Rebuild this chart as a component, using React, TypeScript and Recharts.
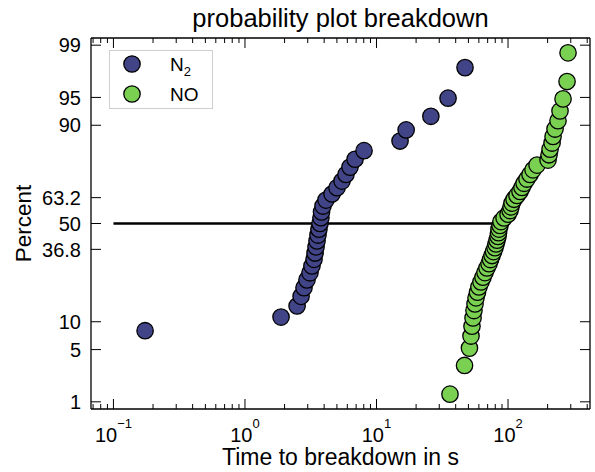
import React from "react";
import { ScatterChart, Scatter, XAxis, YAxis, ReferenceLine, Legend, Label } from "recharts";

// breakdown times in s
const n2Times = [0.174, 1.88, 2.49, 2.67, 2.81, 2.96, 3.12, 3.23, 3.35, 3.41, 3.47, 3.53, 3.59, 3.65, 3.72, 3.78, 3.82, 3.92, 4.13, 4.59, 5.01, 5.47, 5.86, 6.29, 6.87, 8.04, 15.1, 16.8, 25.9, 35.0, 47.1];
const n2Percent = [8.1, 11.1, 14.1, 17.1, 20.1, 23.1, 26.0, 29.0, 32.0, 35.0, 38.0, 41.0, 44.0, 47.0, 50.0, 53.0, 56.0, 59.0, 62.0, 65.0, 68.0, 71.0, 73.9, 76.9, 79.9, 82.9, 85.9, 88.9, 91.9, 94.9, 97.9];

const noTimes = [36.2, 46.7, 50.9, 52.3, 53.2, 54.2, 55.1, 56.1, 57.1, 58.6, 60.1, 62.3, 64.5, 66.8, 69.2, 71.7, 73.6, 75.6, 77.6, 79.6, 81.1, 82.5, 83.9, 84.7, 85.4, 86.9, 88.4, 93.3, 100.0, 103.6, 105.4, 107.3, 111.1, 117.0, 123.3, 127.7, 132.4, 139.4, 146.9, 154.9, 166.2, 201.5, 205.1, 208.7, 216.2, 220.0, 227.7, 239.9, 248.4, 262.0, 281.0, 285.9];
const noPercent = [1.3, 3.2, 5.2, 7.1, 9.0, 10.9, 12.8, 14.7, 16.6, 18.5, 20.4, 22.3, 24.2, 26.1, 28.1, 30.0, 31.9, 33.8, 35.7, 37.6, 39.5, 41.4, 43.3, 45.2, 47.1, 49.0, 51.0, 52.9, 54.8, 56.7, 58.6, 60.5, 62.4, 64.3, 66.2, 68.1, 70.0, 71.9, 73.9, 75.8, 77.7, 79.6, 81.5, 83.4, 85.3, 87.2, 89.1, 91.0, 92.9, 94.8, 96.8, 98.7];

const percentTicks = [1, 5, 10, 36.8, 50, 63.2, 90, 95, 99];
const percentLabels = ["1", "5", "10", "36.8", "50", "63.2", "90", "95", "99"];
const decadeTicks = [0.1, 1, 10, 100];
const decadeExponents = ["\u22121", "0", "1", "2"];
const minorFactors = [2, 3, 4, 5, 6, 7, 8, 9];

const seriesNames = ["N", "NO"];
const seriesSubs = ["2", ""];
const seriesColors = ["#414487", "#7AD151"];

const FONT = '"Liberation Sans", Arial, Helvetica, sans-serif';
const W = 595;
const H = 472;
const plotLeft = 91;
const plotTop = 38;
const plotRight = 590;
const plotBottom = 409;
const xDomain = [0.0675, 420];
const zLimit = 2.42;

// inverse normal cdf (Acklam)
function probit(p: number) {
    const a = [-39.69683028665376, 220.9460984245205, -275.9285104469687, 138.357751867269, -30.66479806614716, 2.506628277459239];
    const b = [-54.47609879822406, 161.5858368580409, -155.6989798598866, 66.80131188771972, -13.28068155288572];
    const c = [-0.007784894002430293, -0.3223964580411365, -2.400758277161838, -2.549732539343734, 4.374664141464968, 2.938163982698783];
    const d = [0.007784695709041462, 0.3224671290700398, 2.445134137142996, 3.754408661907416];
    const plow = 0.02425;
    if (p < plow) {
        const q = Math.sqrt(-2 * Math.log(p));
        return (((((c[0] * q + c[1]) * q + c[2]) * q + c[3]) * q + c[4]) * q + c[5]) / ((((d[0] * q + d[1]) * q + d[2]) * q + d[3]) * q + 1);
    }
    if (p > 1 - plow) {
        const q = Math.sqrt(-2 * Math.log(1 - p));
        return -(((((c[0] * q + c[1]) * q + c[2]) * q + c[3]) * q + c[4]) * q + c[5]) / ((((d[0] * q + d[1]) * q + d[2]) * q + d[3]) * q + 1);
    }
    const q = p - 0.5;
    const r = q * q;
    return (((((a[0] * r + a[1]) * r + a[2]) * r + a[3]) * r + a[4]) * r + a[5]) * q / (((((b[0] * r + b[1]) * r + b[2]) * r + b[3]) * r + b[4]) * r + 1);
}

const n2Data = n2Times.map((t, i) => ({ t, z: probit(n2Percent[i] / 100) }));
const noData = noTimes.map((t, i) => ({ t, z: probit(noPercent[i] / 100) }));
// keeps the mirror axes (top / right) bound to a series
const frameData = [{ t: xDomain[0], z: -zLimit }, { t: xDomain[1], z: zLimit }];

const yTicks = percentTicks.map((p) => probit(p / 100));
const xTicks: number[] = [];
[0.01, 0.1, 1, 10, 100].forEach((dec) => {
    xTicks.push(dec);
    minorFactors.forEach((f) => xTicks.push(dec * f));
});
const xTicksInRange = xTicks.filter((v) => v >= xDomain[0] && v <= xDomain[1]).sort((p, q) => p - q);

function majorIndex(v: number) {
    return decadeTicks.findIndex((d) => Math.abs(d - v) / d < 1e-6);
}

function BottomTick(props: any) {
    const { x, y, payload } = props;
    const idx = majorIndex(payload.value);
    return (
        <g>
            <line x1={x} y1={y} x2={x} y2={y - (idx >= 0 ? 10 : 5)} stroke="#000" strokeWidth={1} />
            {idx >= 0 && (
                <text x={x} y={y + 33} textAnchor="middle" fontSize={20} fontFamily={FONT} fill="#000">
                    10<tspan dy={-14} fontSize={13}>{decadeExponents[idx]}</tspan>
                </text>
            )}
        </g>
    );
}

function TopTick(props: any) {
    const { x, payload } = props;
    const idx = majorIndex(payload.value);
    return <line x1={x} y1={plotTop} x2={x} y2={plotTop + (idx >= 0 ? 10 : 5)} stroke="#000" strokeWidth={1} />;
}

function LeftTick(props: any) {
    const { x, y, index } = props;
    return (
        <g>
            <line x1={x} y1={y} x2={x + 10} y2={y} stroke="#000" strokeWidth={1} />
            <text x={x - 10} y={y} dy="0.36em" textAnchor="end" fontSize={20} fontFamily={FONT} fill="#000">
                {percentLabels[index]}
            </text>
        </g>
    );
}

function RightTick(props: any) {
    const { y } = props;
    return <line x1={plotRight} y1={y} x2={plotRight - 10} y2={y} stroke="#000" strokeWidth={1} />;
}

function Dot(color: string) {
    return (props: any) => (
        <circle cx={props.cx} cy={props.cy} r={8.2} fill={color} stroke="#000" strokeWidth={1.3} />
    );
}

function LegendBox() {
    return (
        <div style={{ width: 104, height: 59, border: "1px solid #cfcfcf", background: "#fff", boxSizing: "border-box" }}>
            <svg width={102} height={57} style={{ display: "block" }}>
                {seriesNames.map((name, i) => (
                    <g key={name}>
                        <circle cx={22} cy={13 + i * 30} r={8.2} fill={seriesColors[i]} stroke="#000" strokeWidth={1.3} />
                        <text x={60} y={20 + i * 30} fontSize={19} fontFamily={FONT} fill="#000">
                            {name}
                            {seriesSubs[i] && <tspan dy={5} fontSize={13}>{seriesSubs[i]}</tspan>}
                        </text>
                    </g>
                ))}
            </svg>
        </div>
    );
}

export default function App() {
    const midX = (plotLeft + plotRight) / 2;
    const midY = (plotTop + plotBottom) / 2;
    return (
        <div style={{ position: "absolute", left: 0, top: 0, width: W, height: H, background: "#fff" }}>
            <ScatterChart width={W} height={H} margin={{ top: plotTop - 1, right: W - plotRight - 1, bottom: 0, left: 0 }}>
                <XAxis
                    xAxisId={0}
                    dataKey="t"
                    type="number"
                    scale="log"
                    domain={xDomain}
                    allowDataOverflow
                    ticks={xTicksInRange}
                    interval={0}
                    height={H - plotBottom}
                    tickSize={0}
                    tickMargin={0}
                    tickLine={false}
                    axisLine={{ stroke: "#000", strokeWidth: 1.3 }}
                    tick={<BottomTick />}
                >
                    <Label
                        content={() => (
                            <text x={midX} y={465} textAnchor="middle" fontSize={23} fontFamily={FONT} fill="#000">
                                Time to breakdown in s
                            </text>
                        )}
                    />
                </XAxis>
                <XAxis
                    xAxisId="top"
                    orientation="top"
                    dataKey="t"
                    type="number"
                    scale="log"
                    domain={xDomain}
                    allowDataOverflow
                    ticks={xTicksInRange}
                    interval={0}
                    height={1}
                    tickSize={0}
                    tickMargin={0}
                    tickLine={false}
                    axisLine={{ stroke: "#000", strokeWidth: 1.3 }}
                    tick={<TopTick />}
                >
                    <Label
                        content={() => (
                            <text x={midX} y={27} textAnchor="middle" fontSize={25.5} fontFamily={FONT} fill="#000">
                                probability plot breakdown
                            </text>
                        )}
                    />
                </XAxis>
                <YAxis
                    yAxisId={0}
                    dataKey="z"
                    type="number"
                    domain={[-zLimit, zLimit]}
                    allowDataOverflow
                    ticks={yTicks}
                    interval={0}
                    width={plotLeft}
                    tickSize={0}
                    tickMargin={0}
                    tickLine={false}
                    axisLine={{ stroke: "#000", strokeWidth: 1.3 }}
                    tick={<LeftTick />}
                >
                    <Label
                        content={() => (
                            <text
                                x={31}
                                y={midY}
                                transform={`rotate(-90, 31, ${midY})`}
                                textAnchor="middle"
                                fontSize={22.5}
                                fontFamily={FONT}
                                fill="#000"
                            >
                                Percent
                            </text>
                        )}
                    />
                </YAxis>
                <YAxis
                    yAxisId="right"
                    orientation="right"
                    dataKey="z"
                    type="number"
                    domain={[-zLimit, zLimit]}
                    allowDataOverflow
                    ticks={yTicks}
                    interval={0}
                    width={1}
                    tickSize={0}
                    tickMargin={0}
                    tickLine={false}
                    axisLine={{ stroke: "#000", strokeWidth: 1.3 }}
                    tick={<RightTick />}
                />
                <ReferenceLine
                    xAxisId={0}
                    yAxisId={0}
                    segment={[{ x: 0.1, y: 0 }, { x: 100, y: 0 }]}
                    stroke="#000"
                    strokeWidth={2.5}
                />
                <Scatter
                    name="frame"
                    data={frameData}
                    xAxisId="top"
                    yAxisId="right"
                    shape={() => <g />}
                    legendType="none"
                    isAnimationActive={false}
                />
                <Scatter
                    name="N2"
                    data={n2Data}
                    xAxisId={0}
                    yAxisId={0}
                    fill={seriesColors[0]}
                    shape={Dot(seriesColors[0])}
                    isAnimationActive={false}
                />
                <Scatter
                    name="NO"
                    data={noData}
                    xAxisId={0}
                    yAxisId={0}
                    fill={seriesColors[1]}
                    shape={Dot(seriesColors[1])}
                    isAnimationActive={false}
                />
                <Legend
                    layout="vertical"
                    align="center"
                    verticalAlign="middle"
                    wrapperStyle={{ position: "absolute", left: 109, top: 50, width: 104, height: 59 }}
                    content={() => <LegendBox />}
                />
            </ScatterChart>
        </div>
    );
}
